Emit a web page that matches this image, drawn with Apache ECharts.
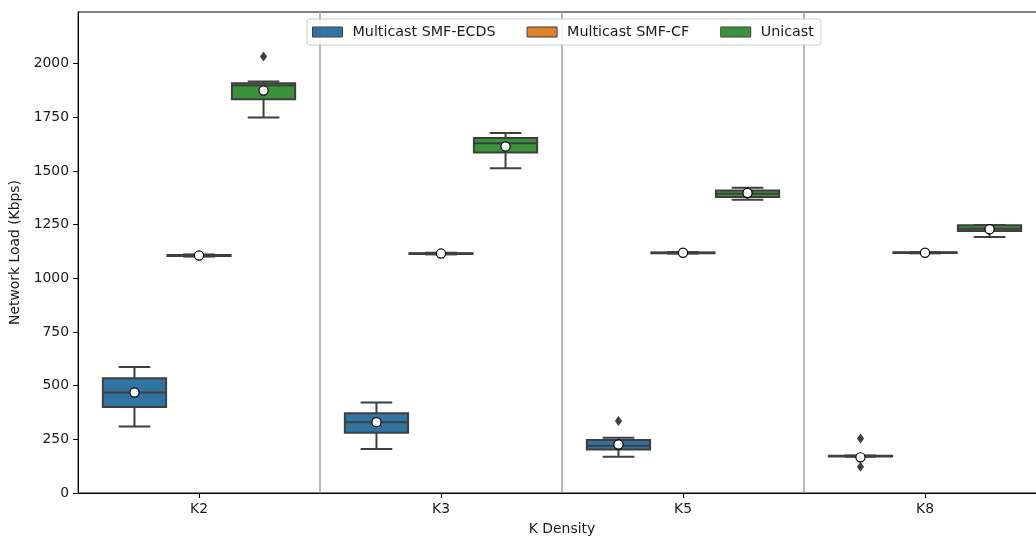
<!DOCTYPE html>
<html>
<head>
<meta charset="utf-8">
<title>Network Load by K Density</title>
<script src="https://cdn.jsdelivr.net/npm/echarts@6/dist/echarts.min.js"></script>
<style>
  html, body { margin: 0; padding: 0; background: #fff; }
  #chart { width: 1036px; height: 542px; }
</style>
</head>
<body>
<div id="chart"></div>
<script>
// Categories and series names
const categories = ['K2', 'K3', 'K5', 'K8'];
const seriesNames = ['Multicast SMF-ECDS', 'Multicast SMF-CF', 'Unicast'];
const yTicks = [0, 250, 500, 750, 1000, 1250, 1500, 1750, 2000];

// Box statistics per category: [min whisker, Q1, median, Q3, max whisker]
const ecdsStats = [
  [310, 400, 468, 534, 587],
  [205, 281, 330, 371, 422],
  [169, 202, 220, 247, 257],
  [169, 170, 172, 174, 175]
];
const cfStats = [
  [1101, 1104, 1106, 1108, 1111],
  [1111, 1113, 1115, 1117, 1119],
  [1115, 1117, 1119, 1120, 1122],
  [1116, 1118, 1119, 1121, 1122]
];
const unicastStats = [
  [1749, 1834, 1898, 1908, 1916],
  [1512, 1586, 1629, 1653, 1676],
  [1366, 1378, 1394, 1409, 1422],
  [1192, 1220, 1231, 1247, 1248]
];

// Mean per category
const ecdsMeans = [468, 330, 226, 166];
const cfMeans = [1106, 1115, 1119, 1119];
const unicastMeans = [1874, 1614, 1397, 1228];

// Outliers per category
const ecdsOutliers = [[], [], [335], [254, 122]];
const cfOutliers = [[], [], [], []];
const unicastOutliers = [[2033], [], [], []];

const colors = ['#3274a1', '#e1812c', '#3a923a'];
const edgeColor = '#3f3f3f';
const fontFamily = '"DejaVu Sans", sans-serif';

function buildData(stats, means) {
  return stats.map((s, i) => [i].concat(s, [means[i]]));
}

function boxRenderer(hueIdx, outliers) {
  const nHue = seriesNames.length;
  return function (params, api) {
    const ci = api.value(0);
    const bandW = api.size([1, 0])[0];
    const slot = bandW * 0.8 / nHue;
    const cx = api.coord([ci, 0])[0] + (hueIdx - (nHue - 1) / 2) * slot;
    const half = slot * 0.98 / 2;
    const capHalf = half / 2;
    const y = k => api.coord([ci, api.value(k)])[1];
    const yMin = y(1), yQ1 = y(2), yMed = y(3), yQ3 = y(4), yMax = y(5), yMean = y(6);
    const lineStyle = { stroke: edgeColor, lineWidth: 2, fill: null };
    const children = [
      { type: 'line', shape: { x1: cx, y1: yQ1, x2: cx, y2: yMin }, style: lineStyle },
      { type: 'line', shape: { x1: cx, y1: yQ3, x2: cx, y2: yMax }, style: lineStyle },
      { type: 'line', shape: { x1: cx - capHalf, y1: yMin, x2: cx + capHalf, y2: yMin }, style: lineStyle },
      { type: 'line', shape: { x1: cx - capHalf, y1: yMax, x2: cx + capHalf, y2: yMax }, style: lineStyle },
      { type: 'rect', shape: { x: cx - half, y: yQ3, width: half * 2, height: yQ1 - yQ3 },
        style: { fill: colors[hueIdx], stroke: edgeColor, lineWidth: 2 } },
      { type: 'line', shape: { x1: cx - half, y1: yMed, x2: cx + half, y2: yMed }, style: lineStyle }
    ];
    (outliers[params.dataIndex] || []).forEach(v => {
      const oy = api.coord([ci, v])[1];
      children.push({
        type: 'polygon',
        shape: { points: [[cx, oy - 5], [cx + 3.6, oy], [cx, oy + 5], [cx - 3.6, oy]] },
        style: { fill: edgeColor, stroke: null }
      });
    });
    children.push({
      type: 'circle', shape: { cx: cx, cy: yMean, r: 4.6 },
      style: { fill: '#ffffff', stroke: '#000000', lineWidth: 1.2 }
    });
    return { type: 'group', children: children };
  };
}

const chart = echarts.init(document.getElementById('chart'), null, { renderer: 'canvas' });

const statSets = [ecdsStats, cfStats, unicastStats];
const meanSets = [ecdsMeans, cfMeans, unicastMeans];
const outlierSets = [ecdsOutliers, cfOutliers, unicastOutliers];

chart.setOption({
  animation: false,
  backgroundColor: '#ffffff',
  textStyle: { fontFamily: fontFamily },
  grid: {
    left: 78, top: 12, width: 968, height: 481,
    outerBoundsMode: 'none',
    containLabel: false,
    show: true, borderColor: '#000000', borderWidth: 1, backgroundColor: 'transparent'
  },
  legend: {
    left: 307, top: 19,
    orient: 'horizontal',
    itemWidth: 30, itemHeight: 10, itemGap: 31,
    padding: [6, 7, 6, 5],
    borderColor: '#cccccc', borderWidth: 1, borderRadius: 3,
    backgroundColor: 'rgba(255,255,255,0.85)',
    textStyle: { fontFamily: fontFamily, fontSize: 14.3, color: '#1a1a1a', padding: [0, 0, 0, 5] },
    data: seriesNames.map((n, i) => ({
      name: n, icon: 'rect',
      itemStyle: { color: colors[i], borderColor: edgeColor, borderWidth: 1 }
    }))
  },
  xAxis: {
    type: 'category',
    data: categories,
    boundaryGap: true,
    name: 'K Density',
    nameLocation: 'middle',
    nameGap: 29,
    nameTextStyle: { fontFamily: fontFamily, fontSize: 13.9, color: '#1a1a1a' },
    axisLine: { show: true, lineStyle: { color: '#000000', width: 1 } },
    axisTick: { show: true, alignWithLabel: true, length: 5, lineStyle: { color: '#000000', width: 1 } },
    axisLabel: { margin: 9, fontFamily: fontFamily, fontSize: 13.9, color: '#1a1a1a' },
    splitLine: { show: true, lineStyle: { color: '#a0a0a0', width: 1.5 } }
  },
  yAxis: {
    type: 'value',
    min: 0, max: 2240, interval: 250,
    name: 'Network Load (Kbps)',
    nameLocation: 'middle',
    nameGap: 42,
    nameTextStyle: { fontFamily: fontFamily, fontSize: 13.9, color: '#1a1a1a' },
    axisLine: { show: true, lineStyle: { color: '#000000', width: 1 } },
    axisTick: { show: true, length: 5, customValues: yTicks, lineStyle: { color: '#000000', width: 1 } },
    axisLabel: {
      margin: 9, customValues: yTicks,
      formatter: v => String(v),
      fontFamily: fontFamily, fontSize: 13.9, color: '#1a1a1a'
    },
    splitLine: { show: false }
  },
  series: seriesNames.map((name, h) => ({
    name: name,
    type: 'custom',
    itemStyle: { color: colors[h] },
    encode: { x: 0, y: [1, 2, 3, 4, 5, 6] },
    data: buildData(statSets[h], meanSets[h]),
    renderItem: boxRenderer(h, outlierSets[h]),
    z: 3
  }))
});
</script>
</body>
</html>
